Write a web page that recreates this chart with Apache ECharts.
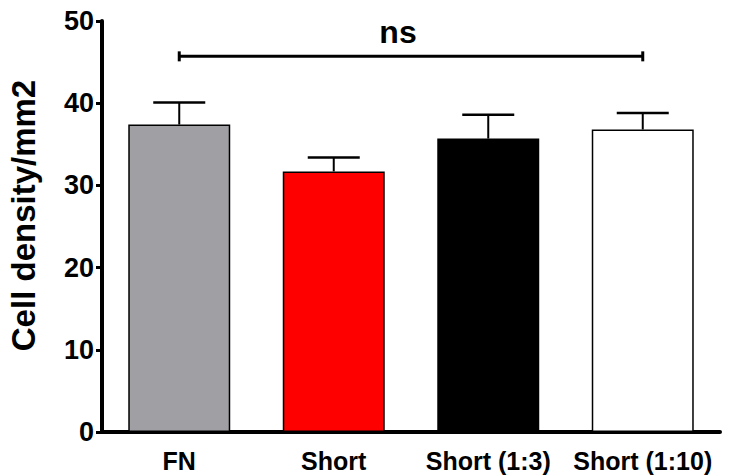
<!DOCTYPE html>
<html>
<head>
<meta charset="utf-8">
<script src="https://cdn.jsdelivr.net/npm/echarts@6/dist/echarts.min.js"></script>
<style>
    html, body { margin: 0; padding: 0; background: #fff; }
    #main { width: 740px; height: 476px; }
</style>
</head>
<body>
<div id="main"></div>
<script>
// 数据
var categories = ['FN', 'Short', 'Short (1:3)', 'Short (1:10)'];
var means = [37.4, 31.7, 35.7, 36.8];
var sems = [2.7, 1.7, 2.9, 2.0];
var barColors = ['#a09fa4', '#ff0000', '#000000', '#ffffff'];
var yTicks = [0, 10, 20, 30, 40, 50];
// 显著性标注: 从第0组到第3组
var sigFrom = 0, sigTo = 3, sigLevel = 45.7, sigText = 'ns';

var font = 'Liberation Sans, Arial, sans-serif';

var chart = echarts.init(document.getElementById('main'), null, { renderer: 'svg' });

chart.setOption({
    animation: false,
    grid: { left: 102, right: 20, top: 21, bottom: 44, containLabel: false, outerBoundsMode: 'none' },
    xAxis: {
        type: 'category',
        data: categories,
        axisLine: { lineStyle: { color: '#000', width: 4 } },
        axisTick: { alignWithLabel: true, length: 5, lineStyle: { color: '#000', width: 3 } },
        axisLabel: { interval: 0, hideOverlap: false, color: '#000', fontSize: 25, fontWeight: 'bold', fontFamily: font, margin: 16 }
    },
    yAxis: {
        type: 'value',
        min: yTicks[0],
        max: yTicks[yTicks.length - 1],
        interval: 10,
        name: 'Cell density/mm2',
        nameLocation: 'middle',
        nameRotate: 90,
        nameGap: 62,
        nameTextStyle: { color: '#000', fontSize: 33, fontWeight: 'bold', fontFamily: font, padding: [0, 0, 0, 22] },
        splitLine: { show: false },
        axisLine: { show: true, lineStyle: { color: '#000', width: 4 } },
        axisTick: { show: true, length: 6, lineStyle: { color: '#000', width: 3 } },
        axisLabel: { color: '#000', fontSize: 27, fontWeight: 'bold', fontFamily: font, margin: 8 }
    },
    series: [
        {
            type: 'bar',
            barWidth: '66%',
            data: means.map(function (v, i) {
                return { value: v, itemStyle: { color: barColors[i], borderColor: '#000', borderWidth: 1.5 } };
            }),
            z: 2
        },
        {
            // 误差线 (只画上半部分)
            type: 'custom',
            data: means.map(function (v, i) { return [i, v, v + sems[i]]; }),
            renderItem: function (params, api) {
                var base = api.coord([api.value(0), api.value(1)]);
                var top = api.coord([api.value(0), api.value(2)]);
                var half = 26;
                return {
                    type: 'group',
                    children: [
                        { type: 'line', shape: { x1: top[0], y1: base[1], x2: top[0], y2: top[1] }, style: { stroke: '#000', lineWidth: 2 } },
                        { type: 'line', shape: { x1: top[0] - half, y1: top[1], x2: top[0] + half, y2: top[1] }, style: { stroke: '#000', lineWidth: 2.5 } }
                    ]
                };
            },
            z: 3
        },
        {
            // ns 括号
            type: 'custom',
            data: [[sigFrom, sigTo, sigLevel]],
            renderItem: function (params, api) {
                var a = api.coord([api.value(0), api.value(2)]);
                var b = api.coord([api.value(1), api.value(2)]);
                return {
                    type: 'group',
                    children: [
                        { type: 'line', shape: { x1: a[0], y1: a[1], x2: b[0], y2: b[1] }, style: { stroke: '#000', lineWidth: 3 } },
                        { type: 'line', shape: { x1: a[0], y1: a[1] - 5, x2: a[0], y2: a[1] + 5 }, style: { stroke: '#000', lineWidth: 3 } },
                        { type: 'line', shape: { x1: b[0], y1: b[1] - 5, x2: b[0], y2: b[1] + 5 }, style: { stroke: '#000', lineWidth: 3 } },
                        {
                            type: 'text',
                            x: (a[0] + b[0]) / 2 - 13,
                            y: a[1] - 8,
                            style: {
                                text: sigText, fill: '#000', fontSize: 32, fontWeight: 'bold', fontFamily: font,
                                align: 'center', verticalAlign: 'bottom'
                            }
                        }
                    ]
                };
            },
            z: 4
        }
    ]
});
</script>
</body>
</html>
